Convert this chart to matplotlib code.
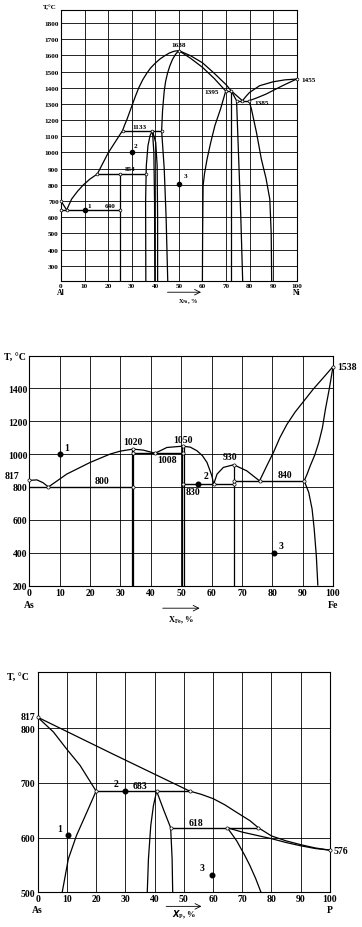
import numpy as np
import matplotlib.pyplot as plt

plt.rcParams['font.family'] = ['Liberation Serif', 'DejaVu Serif']
plt.rcParams['font.weight'] = 'bold'

# ---------------- Al - Ni ----------------
alni_al_liq = [(0, 700), (2.4, 645)]
alni_liq_a = [(2.4, 645), (4.5, 712), (7, 760), (9.5, 800), (12.3, 836), (15.4, 867)]
alni_liq_b = [(15.4, 867), (20, 997), (26.1, 1135)]
alni_liq_c = [(26.1, 1135), (27, 1170), (28, 1205), (29, 1245), (30, 1285), (31.5, 1345), (33, 1400),
              (34.7, 1450), (36.4, 1490), (38, 1522), (40, 1552), (42, 1578), (44, 1598),
              (46, 1615), (48, 1626), (50, 1630)]
alni_nial_left_hi = [(42.7, 1135), (43.1, 1260), (43.8, 1380), (44.4, 1440), (45.2, 1490),
                     (46.2, 1536), (47.3, 1575), (48.6, 1607), (50, 1630)]
alni_nial_left_lo = [(42.7, 1135), (43.8, 900), (44.6, 600), (45.3, 205)]
alni_dome_left = [(36.0, 205), (35.9, 700), (36.2, 918), (36.9, 1042), (37.8, 1105), (38.8, 1135)]
alni_dome_right = [(38.8, 1135), (40.2, 1062), (40.8, 918), (41.0, 600), (41.0, 205)]
alni_dome_inner = [(38.8, 1135), (39.4, 1000), (39.7, 700), (39.8, 205)]
alni_liq_ni = [(50, 1630), (55, 1598), (60, 1555), (65, 1490), (70, 1420), (72.3, 1380), (77, 1320)]
alni_nial_sol = [(50, 1630), (55, 1582), (60, 1527), (65, 1458), (69.9, 1380)]
alni_nial_solvus = [(69.9, 1380), (67.7, 1269), (65.3, 1166), (63.5, 1060), (62.0, 960),
                    (60.9, 870), (60.3, 795), (60.1, 500), (60.0, 205)]
alni_ni3al_left = [(72.0, 1380), (72.0, 205)]
alni_ni3al_top = [(72.3, 1380), (74.5, 1320)]
alni_ni3al_right = [(74.5, 1320), (75.3, 1000), (76.3, 600), (77.1, 205)]
alni_ni_liq = [(77, 1320), (78.5, 1347), (80, 1371), (84.3, 1413), (90, 1437), (95, 1449), (100, 1454)]
alni_ni_sol = [(79.8, 1320), (83, 1337), (87, 1361), (94, 1413), (100, 1454)]
alni_ni_solvus = [(79.8, 1320), (80.8, 1269), (83, 1120), (85, 960), (87, 840), (88.6, 712),
                  (89.2, 500), (89.4, 205)]
alni_x25 = [(25, 205), (25, 867)]
alni_horiz = [(0, 25, 645), (15.4, 35.9, 867), (26.1, 42.7, 1135), (69.9, 72.3, 1380), (74.5, 79.8, 1320)]
alni_open = [(0, 700), (0, 645), (2.4, 645), (25, 645), (15.4, 867), (25, 867), (35.9, 867),
             (26.1, 1135), (38.8, 1135), (42.7, 1135), (50, 1630), (69.9, 1380), (72.3, 1380),
             (74.5, 1320), (77, 1320), (79.8, 1320), (100, 1454)]
alni_dots = [(10, 645), (30, 1000), (50, 805)]
alni_labels = [('1', 11.8, 675), ('2', 31.6, 1042), ('3', 52.8, 857), ('1638', 50, 1670),
               ('1133', 33.5, 1161), ('854', 29.3, 902), ('640', 21, 675), ('1395', 64, 1376),
               ('1385', 85, 1306), ('1455', 105, 1454)]
alni_yticks = list(range(300, 1801, 100))

# ---------------- As - Fe ----------------
asfe_left = [(0, 840), (2.5, 843), (4.5, 826), (6.3, 800)]
asfe_liq_a = [(6.3, 800), (12.3, 878), (20, 949), (26.6, 1000), (30, 1018), (34.1, 1030)]
asfe_liq_b = [(34.1, 1030), (37.5, 1024), (41.4, 1005)]
asfe_liq_c = [(41.4, 1005), (45.3, 1040), (50.5, 1048)]
asfe_liq_d = [(50.5, 1048), (53, 1042), (55.2, 1020), (57, 990), (58.5, 949), (60.1, 868), (60.7, 817)]
asfe_dome = [(60.7, 817), (61.8, 878), (63.9, 919), (67.3, 935), (71.6, 898), (75.8, 837)]
asfe_liq_fe = [(75.8, 837), (78.2, 929), (80.5, 1015), (82.5, 1100), (84.8, 1180), (87.5, 1255),
               (90.5, 1325), (93.5, 1395), (96.7, 1462), (100, 1532)]
asfe_sol_fe = [(90.5, 837), (91.5, 880), (92.5, 929), (94, 995), (95.3, 1070), (96.5, 1160),
               (97.5, 1273), (98.8, 1400), (100, 1532)]
asfe_solvus_fe = [(90.5, 837), (92, 767), (93.1, 666), (93.8, 544), (94.5, 380), (95, 200)]
asfe_vert = [(33.7, 1030), (34.3, 1030), (50.2, 1048), (50.8, 1048), (67.3, 935)]
asfe_horiz = [(0, 34.1, 800), (34.1, 50.5, 1005), (50.5, 67.3, 817), (67.3, 90.5, 837)]
asfe_open = [(0, 840), (6.3, 800), (34.1, 800), (34.1, 1005), (34.1, 1030), (41.4, 1005),
             (50.5, 1005), (50.5, 1048), (50.5, 817), (60.7, 817), (67.3, 817), (67.3, 837),
             (67.3, 935), (75.8, 837), (90.5, 837), (100, 1532)]
asfe_dots = [(10, 1000), (55.5, 817), (80.4, 400)]
asfe_labels = [('1', 12.3, 1040), ('2', 58.3, 868), ('3', 82.8, 445), ('1020', 34, 1076),
               ('1050', 50.5, 1090), ('1008', 45.3, 969), ('800', 23.8, 840), ('830', 54, 771),
               ('930', 66.2, 985), ('840', 84.3, 874), ('1538', 104.5, 1532), ('817', -5.8, 868)]
asfe_yticks = list(range(200, 1401, 200))

# ---------------- As - P ----------------
asp_liq_a = [(0, 820), (26, 752), (52, 685)]
asp_liq_b = [(52, 685), (56, 679), (60.1, 671), (64, 660), (68.1, 646), (72.6, 631), (75.5, 618),
             (80, 603), (85, 594), (90, 587), (95, 581), (100, 577)]
asp_sol_as = [(0, 820), (5.4, 793), (9.9, 762), (14.5, 732), (20, 685)]
asp_solvus_as = [(20, 685), (16.8, 646), (13.3, 604), (10.5, 561), (8.4, 500)]
asp_dome_left = [(37.5, 500), (37.9, 561), (38.7, 622), (39.6, 658), (40.7, 685)]
asp_dome_right = [(40.7, 685), (43, 652), (45.5, 618), (46.0, 561), (46.2, 500)]
asp_sol_p = [(64.9, 618), (70, 610), (75, 604), (80, 598), (85, 591), (90, 585), (95, 580), (100, 577)]
asp_solvus_p = [(64.9, 618), (68.1, 594), (70.9, 567), (72.6, 549), (74.6, 525), (76.4, 500)]
asp_horiz = [(20, 52, 685), (45.5, 75.5, 618)]
asp_open = [(0, 820), (20, 685), (40.7, 685), (52, 685), (45.5, 618), (64.9, 618), (75.5, 618), (100, 577)]
asp_dots = [(10.3, 604), (29.9, 685), (59.7, 532)]
asp_labels = [('1', 7.4, 617), ('2', 26.8, 698), ('3', 56.1, 546), ('683', 35, 695),
              ('618', 54.2, 627), ('576', 103.6, 577), ('817', -3.4, 822)]
asp_yticks = [500, 600, 700, 800]

xticks = list(range(0, 101, 10))


def curve(ax, pts, lw=0.9):
    xs, ts = zip(*pts)
    ax.plot(xs, ts, color='k', lw=lw, solid_capstyle='butt', solid_joinstyle='round', zorder=3)


def setup(ax, ylim, yticks, hgrid, fs):
    ax.set_xlim(0, 100)
    ax.set_ylim(*ylim)
    ax.set_xticks(xticks)
    ax.set_yticks(yticks)
    ax.tick_params(length=0, labelsize=fs, pad=1.5)
    for lab in ax.get_xticklabels() + ax.get_yticklabels():
        lab.set_fontweight('bold')
    for x in xticks[1:-1]:
        ax.axvline(x, color='k', lw=0.6, zorder=1)
    for t in hgrid:
        ax.axhline(t, color='k', lw=0.6, zorder=1)
    for s in ax.spines.values():
        s.set_linewidth(0.8)


def marks(ax, horiz, opens, dots, labels, fs, ms_o, ms_d):
    for x0, x1, t in horiz:
        ax.plot([x0, x1], [t, t], color='k', lw=1.0, zorder=3)
    ox, ot = zip(*opens)
    ax.plot(ox, ot, 'o', mfc='white', mec='k', ms=ms_o, mew=0.5, zorder=5, clip_on=False)
    dx, dt = zip(*dots)
    ax.plot(dx, dt, 'o', color='k', ms=ms_d, zorder=5)
    for s, x, t in labels:
        ax.text(x, t, s, fontsize=fs, fontweight='bold', ha='center', va='center', clip_on=False)


def xaxis_text(ax, left, right, name, fs, y_el, y_arr, y_name, arr=(43, 57), xname=50):
    tr = ax.get_xaxis_transform()
    ax.text(0, y_el, left, transform=tr, fontsize=fs, fontweight='bold', ha='center', va='center')
    ax.text(100, y_el, right, transform=tr, fontsize=fs, fontweight='bold', ha='center', va='center')
    ax.annotate('', xy=(arr[1], y_arr), xytext=(arr[0], y_arr), xycoords=tr, textcoords=tr,
                arrowprops=dict(arrowstyle='->', lw=0.6, color='k'))
    ax.text(xname, y_name, name, transform=tr, fontsize=fs - 1, ha='center', va='center')


fig = plt.figure(figsize=(3.62, 9.28), dpi=100)

# panel 1
ax1 = fig.add_axes([0.1685, 0.696, 0.651, 0.292])
setup(ax1, (205, 1880), alni_yticks, alni_yticks, 5.2)
for c in [alni_al_liq, alni_liq_a, alni_liq_b, alni_liq_c, alni_nial_left_hi, alni_nial_left_lo,
          alni_dome_left, alni_dome_right, alni_dome_inner, alni_liq_ni, alni_nial_sol,
          alni_nial_solvus, alni_ni3al_left, alni_ni3al_top, alni_ni3al_right, alni_ni_liq,
          alni_ni_sol, alni_ni_solvus, alni_x25]:
    curve(ax1, c)
marks(ax1, alni_horiz, alni_open, alni_dots, alni_labels, 5.2, 2.0, 3.0)
ax1.text(-0.047, 1.015, 'T,°C', transform=ax1.transAxes, fontsize=5, fontweight='bold',
         ha='center', va='center')
xaxis_text(ax1, 'Al', 'Ni', r'$\mathregular{X_{Ni}}$, %', 5.6, -0.041, -0.041, -0.073,
           arr=(44, 60.6), xname=53.8)

# panel 2
ax2 = fig.add_axes([0.081, 0.3678, 0.839, 0.2475])
setup(ax2, (200, 1596), asfe_yticks, asfe_yticks[1:], 7)
for c in [asfe_left, asfe_liq_a, asfe_liq_b, asfe_liq_c, asfe_liq_d, asfe_dome, asfe_liq_fe,
          asfe_sol_fe, asfe_solvus_fe]:
    curve(ax2, c)
for x, t in asfe_vert:
    curve(ax2, [(x, 200), (x, t)])
marks(ax2, asfe_horiz, asfe_open, asfe_dots, asfe_labels, 7, 2.3, 3.3)
ax2.text(-0.047, 1.0, 'T, °C', transform=ax2.transAxes, fontsize=7, fontweight='bold',
         ha='center', va='center')
xaxis_text(ax2, 'As', 'Fe', r'$\mathregular{X_{Fe}}$, %', 7, -0.084, -0.098, -0.145)

# panel 3
ax3 = fig.add_axes([0.104, 0.0374, 0.8075, 0.237])
setup(ax3, (500, 902), asp_yticks, [600, 700, 800], 7)
for c in [asp_liq_a, asp_liq_b, asp_sol_as, asp_solvus_as, asp_dome_left, asp_dome_right,
          asp_sol_p, asp_solvus_p]:
    curve(ax3, c)
marks(ax3, asp_horiz, asp_open, asp_dots, asp_labels, 7, 2.3, 3.3)
ax3.text(-0.067, 0.983, 'T, °C', transform=ax3.transAxes, fontsize=7, fontweight='bold',
         ha='center', va='center')
xaxis_text(ax3, 'As', 'P', r'$\mathit{X}_{\mathregular{P}}$, %', 7, -0.079, -0.064, -0.099)

fig.savefig('out.png', dpi=100, facecolor='white')
